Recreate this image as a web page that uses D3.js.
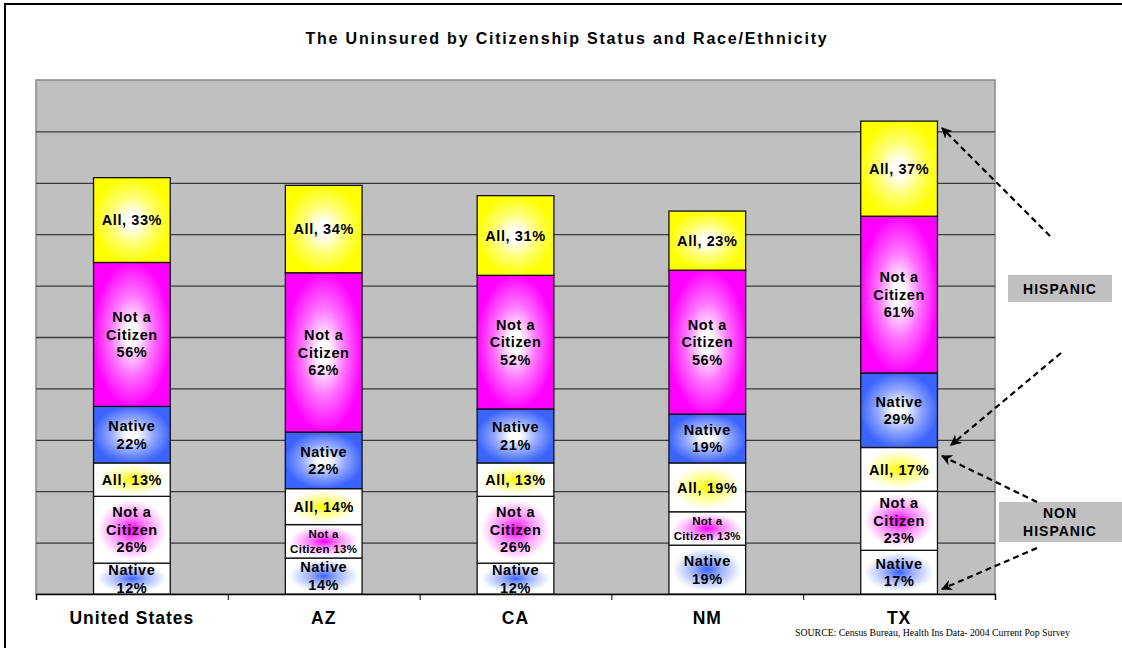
<!DOCTYPE html>
<html>
<head>
<meta charset="utf-8">
<script src="https://cdn.jsdelivr.net/npm/d3@7"></script>
<style>
  body { margin: 0; background: #fff; }
</style>
</head>
<body>
<div id="chart"></div>
<script>
// data (percent uninsured)
var categories = ["United States", "AZ", "CA", "NM", "TX"];
var nativeNH   = [12, 14, 12, 19, 17];
var notCitNH   = [26, 13, 26, 13, 23];
var allNH      = [13, 14, 13, 19, 17];
var nativeH    = [22, 22, 21, 19, 29];
var notCitH    = [56, 62, 52, 56, 61];
var allH       = [33, 34, 31, 23, 37];
var yTicks     = [0, 20, 40, 60, 80, 100, 120, 140, 160, 180, 200];

// segment kinds, bottom to top
var series = [
  {key: "nativeNH", values: nativeNH, kind: "native", hisp: false},
  {key: "notCitNH", values: notCitNH, kind: "notcit", hisp: false},
  {key: "allNH",    values: allNH,    kind: "all",    hisp: false},
  {key: "nativeH",  values: nativeH,  kind: "native", hisp: true},
  {key: "notCitH",  values: notCitH,  kind: "notcit", hisp: true},
  {key: "allH",     values: allH,     kind: "all",    hisp: true}
];
var colors = {native: "#3b63ff", notcit: "#ff00ff", all: "#ffff00"};

var sans = "Arial, 'Liberation Sans', sans-serif";
var W = 1122, H = 648;
var plot = {left: 36, right: 995, top: 80, bottom: 594};

var svg = d3.select("#chart").append("svg")
  .attr("width", W).attr("height", H)
  .attr("font-family", sans);

var defs = svg.append("defs");

// gradients: hispanic = colour edges, white centre; non-hispanic = colour centre, white edges
Object.keys(colors).forEach(function(k) {
  var g1 = defs.append("radialGradient").attr("id", "h-" + k)
    .attr("cx", 0.5).attr("cy", 0.5).attr("r", 0.62);
  g1.append("stop").attr("offset", 0).attr("stop-color", "#ffffff");
  g1.append("stop").attr("offset", 0.12).attr("stop-color", "#ffffff");
  g1.append("stop").attr("offset", 0.45).attr("stop-color", d3.interpolateRgb("#ffffff", colors[k])(0.55));
  g1.append("stop").attr("offset", 0.82).attr("stop-color", colors[k]);
  g1.append("stop").attr("offset", 1).attr("stop-color", colors[k]);

  var g2 = defs.append("radialGradient").attr("id", "n-" + k)
    .attr("cx", 0.5).attr("cy", 0.5).attr("r", 0.6);
  g2.append("stop").attr("offset", 0).attr("stop-color", colors[k]);
  g2.append("stop").attr("offset", 0.3).attr("stop-color", d3.interpolateRgb(colors[k], "#ffffff")(0.5));
  g2.append("stop").attr("offset", 0.75).attr("stop-color", "#ffffff");
  g2.append("stop").attr("offset", 1).attr("stop-color", "#ffffff");
});

defs.append("marker").attr("id", "arrow")
  .attr("viewBox", "0 0 10 10").attr("refX", 9).attr("refY", 5)
  .attr("markerWidth", 5).attr("markerHeight", 5).attr("orient", "auto")
  .append("path").attr("d", "M0,0 L10,5 L0,10 L3,5 Z").attr("fill", "#000");

// outer frame
svg.append("rect")
  .attr("x", 5).attr("y", 4).attr("width", W + 10).attr("height", H + 10)
  .attr("fill", "#fff").attr("stroke", "#000").attr("stroke-width", 2);

// title
svg.append("text")
  .attr("x", 567).attr("y", 44)
  .attr("text-anchor", "middle")
  .attr("font-size", 16).attr("font-weight", "bold")
  .attr("letter-spacing", 1.8)
  .text("The Uninsured by Citizenship Status and Race/Ethnicity");

var x = d3.scaleBand()
  .domain(categories)
  .range([plot.left, plot.right])
  .paddingInner(0.6).paddingOuter(0.3);

var y = d3.scaleLinear()
  .domain([0, 200])
  .range([plot.bottom, plot.top]);

// plot background
svg.append("rect")
  .attr("x", plot.left).attr("y", plot.top)
  .attr("width", plot.right - plot.left).attr("height", plot.bottom - plot.top)
  .attr("fill", "#c0c0c0").attr("stroke", "#888").attr("stroke-width", 1.5);

// gridlines
svg.append("g")
  .attr("class", "grid")
  .attr("transform", "translate(" + plot.left + ",0)")
  .call(d3.axisLeft(y).tickValues(yTicks.slice(1, -1)).tickSize(-(plot.right - plot.left)).tickFormat(""))
  .call(function(g) { g.select(".domain").remove(); })
  .selectAll("line").attr("stroke", "#3a3a3a").attr("stroke-width", 1.3);

// x axis with ticks between categories
var xb = d3.scaleLinear().domain([0, categories.length]).range([plot.left, plot.right]);
svg.append("g")
  .attr("transform", "translate(0," + plot.bottom + ")")
  .call(d3.axisBottom(xb).ticks(categories.length).tickSize(6).tickFormat("").tickSizeOuter(6))
  .call(function(g) {
    g.select(".domain").attr("stroke", "#000").attr("stroke-width", 1.5);
    g.selectAll("line").attr("stroke", "#000");
  });

// category labels
svg.append("g").selectAll("text")
  .data(categories)
  .enter().append("text")
  .attr("x", function(d) { return x(d) + x.bandwidth() / 2; })
  .attr("y", 624)
  .attr("text-anchor", "middle")
  .attr("font-size", 17.5).attr("font-weight", "bold")
  .attr("letter-spacing", 1)
  .text(function(d) { return d; });

// stacked data
var rows = categories.map(function(c, i) {
  var r = {cat: c};
  series.forEach(function(s) { r[s.key] = s.values[i]; });
  return r;
});
var stack = d3.stack().keys(series.map(function(s) { return s.key; }))(rows);

var layers = svg.append("g").selectAll("g")
  .data(stack)
  .enter().append("g");

layers.selectAll("rect")
  .data(function(layer, li) {
    return layer.map(function(d) { return {d: d, s: series[li]}; });
  })
  .enter().append("rect")
  .attr("x", function(e) { return x(e.d.data.cat); })
  .attr("width", x.bandwidth())
  .attr("y", function(e) { return y(e.d[1]); })
  .attr("height", function(e) { return y(e.d[0]) - y(e.d[1]); })
  .attr("fill", function(e) { return "url(#" + (e.s.hisp ? "h-" : "n-") + e.s.kind + ")"; })
  .attr("stroke", "#111").attr("stroke-width", 1.3);

function labelLines(kind, v, h) {
  if (kind === "all") return ["All, " + v + "%"];
  if (kind === "native") return ["Native", v + "%"];
  if (h < 40) return ["Not a", "Citizen " + v + "%"];
  return ["Not a", "Citizen", v + "%"];
}

layers.selectAll("text")
  .data(function(layer, li) {
    return layer.map(function(d) { return {d: d, s: series[li]}; });
  })
  .enter().append("text")
  .attr("text-anchor", "middle")
  .attr("font-weight", "bold")
  .attr("fill", "#000")
  .each(function(e) {
    var top = y(e.d[1]), bot = y(e.d[0]), h = bot - top;
    var v = e.d[1] - e.d[0];
    var lines = labelLines(e.s.kind, v, h);
    var small = e.s.kind === "notcit" && h < 40;
    var fs = small ? 11.5 : 14.5;
    var lh = small ? 15 : 17.5;
    var cx = x(e.d.data.cat) + x.bandwidth() / 2;
    var cy = (top + bot) / 2 - (lines.length - 1) * lh / 2 + fs * 0.36;
    var t = d3.select(this).attr("font-size", fs)
      .attr("letter-spacing", small ? 0.3 : 0.6);
    lines.forEach(function(l, k) {
      t.append("tspan").attr("x", cx).attr("y", cy + k * lh).text(l);
    });
  });

// annotation boxes
svg.append("rect").attr("x", 1008).attr("y", 275).attr("width", 104).attr("height", 27).attr("fill", "#c0c0c0");
svg.append("text").attr("x", 1060).attr("y", 294).attr("text-anchor", "middle")
  .attr("font-size", 14).attr("font-weight", "bold").attr("letter-spacing", 1)
  .text("HISPANIC");

svg.append("rect").attr("x", 999).attr("y", 502).attr("width", 123).attr("height", 40).attr("fill", "#c0c0c0");
svg.append("text").attr("x", 1060).attr("y", 518).attr("text-anchor", "middle")
  .attr("font-size", 14).attr("font-weight", "bold").attr("letter-spacing", 1)
  .text("NON");
svg.append("text").attr("x", 1060).attr("y", 536).attr("text-anchor", "middle")
  .attr("font-size", 14).attr("font-weight", "bold").attr("letter-spacing", 1)
  .text("HISPANIC");

// dashed arrows
var arrows = [
  [1050, 236, 942, 128],
  [1061, 353, 951, 445],
  [1037, 502, 942, 456],
  [1037, 548, 942, 589]
];
svg.append("g").selectAll("line")
  .data(arrows)
  .enter().append("line")
  .attr("x1", function(d) { return d[0]; }).attr("y1", function(d) { return d[1]; })
  .attr("x2", function(d) { return d[2]; }).attr("y2", function(d) { return d[3]; })
  .attr("stroke", "#000").attr("stroke-width", 2.2)
  .attr("stroke-dasharray", "6,4")
  .attr("marker-end", "url(#arrow)");

// source note
svg.append("text")
  .attr("x", 795).attr("y", 636)
  .attr("font-family", "'Liberation Serif', 'Times New Roman', serif")
  .attr("font-size", 9.8)
  .text("SOURCE: Census Bureau, Health Ins Data- 2004 Current Pop Survey");
</script>
</body>
</html>
